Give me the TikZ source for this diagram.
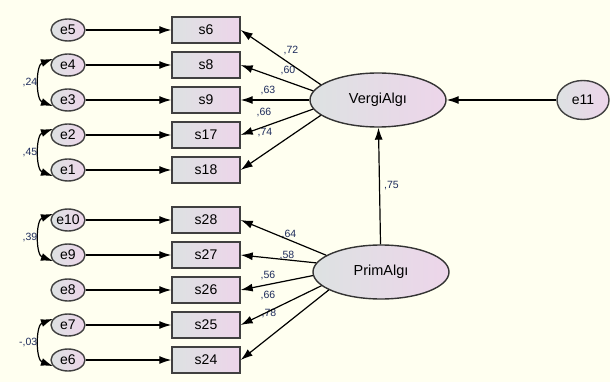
\documentclass[tikz,border=0pt]{standalone}
\usepackage{fontspec}
\setmainfont{Liberation Sans}
\usepackage{xcolor}
\usepackage{tikz}
\usetikzlibrary{arrows.meta,shapes.geometric}

\definecolor{amosbg}{HTML}{FFFFF0}
\definecolor{amosgray}{HTML}{DDE2E2}
\definecolor{amospink}{HTML}{EDD5EA}
\definecolor{amoscoef}{HTML}{1E2C5C}

\begin{document}
\begin{tikzpicture}[x=1pt,y=-1pt,line width=1.2pt,
  >={Latex[length=12pt,width=8pt]},
  obs node/.style={rectangle,draw=black!75,line width=1.4pt,left color=amosgray,right color=amospink,
    minimum width=68pt,minimum height=26pt,inner sep=0pt,font=\fontsize{14}{16}\selectfont},
  err node/.style={ellipse,draw=black!75,line width=1.4pt,left color=amosgray,right color=amospink,
    minimum width=34pt,minimum height=22pt,inner sep=0pt,font=\fontsize{14}{16}\selectfont}]

    \tikzstyle{latent} = [ellipse,draw=black!80,line width=1.4pt,left color=amosgray,right color=amospink,
      minimum width=136pt,minimum height=54pt,inner sep=0pt,font=\fontsize{14.5}{16}\selectfont]
    \tikzstyle{coef} = [text=amoscoef,inner sep=0pt,font=\fontsize{10.5}{12}\selectfont]

  \useasboundingbox[fill=amosbg] (0,0) rectangle (610,382);

  % error terms
  \node[err node] (e5) at (68,30) {e5};
  \node[err node] (e4) at (68,65) {e4};
  \node[err node] (e3) at (68,100) {e3};
  \node[err node] (e2) at (68,135) {e2};
  \node[err node] (e1) at (68,170) {e1};
  \node[err node] (e10) at (68,220) {e10};
  \node[err node] (e9) at (68,255) {e9};
  \node[err node] (e8) at (68,290) {e8};
  \node[err node] (e7) at (68,325) {e7};
  \node[err node] (e6) at (68,360) {e6};

  % items
  \node[obs node] (s6) at (206,30) {s6};
  \node[obs node] (s8) at (206,65) {s8};
  \node[obs node] (s9) at (206,100) {s9};
  \node[obs node] (s17) at (206,135) {s17};
  \node[obs node] (s18) at (206,170) {s18};
  \node[obs node] (s28) at (206,220) {s28};
  \node[obs node] (s27) at (206,255) {s27};
  \node[obs node] (s26) at (206,290) {s26};
  \node[obs node] (s25) at (206,325) {s25};
  \node[obs node] (s24) at (206,360) {s24};

  % factors
  \node[latent] (verg) at (378,100) {VergiAlgı};
  \node[latent] (prim) at (381,272) {PrimAlgı};
  \node[err node,minimum width=52pt,minimum height=39pt] (e11) at (583,100) {e11};

  % loadings
  \node[coef] (c72) at (291,51) {,72};
  \node[coef] (c60) at (288,71) {,60};
  \node[coef] (c63) at (268,91) {,63};
  \node[coef] (c66a) at (264,113) {,66};
  \node[coef] (c74) at (265,133) {,74};
  \node[coef] (c64) at (289,235) {,64};
  \node[coef] (c58) at (287,256) {,58};
  \node[coef] (c56) at (268,276) {,56};
  \node[coef] (c66b) at (268,296) {,66};
  \node[coef] (c78) at (269,314) {,78};

  \path[->]
    (e5) edge (s6)
    (e4) edge (s8)
    (e3) edge (s9)
    (e2) edge (s17)
    (e1) edge (s18)
    (e10) edge (s28)
    (e9) edge (s27)
    (e8) edge (s26)
    (e7) edge (s25)
    (e6) edge (s24)

    (verg.165) edge (s6.east)
    (verg.172) edge (s8.east)
    (verg.180) edge (s9.east)
    (verg.188) edge (s17.east)
    (verg.195) edge (s18.east)

    (prim.163) edge (s28.east)
    (prim.172) edge (s27.east)
    (prim.183) edge (s26.east)
    (prim.193) edge (s25.east)
    (prim.199) edge (s24.east)

    (e11) edge (verg)
    (prim) edge node[coef,right=4pt] {,75} (verg)
    ;

  % correlated errors
  \path[<->,every node/.style={coef,left=2pt}]
    (e4.158) edge[bend right=70] node {,24} (e3.202)
    (e2.158) edge[bend right=70] node {,45} (e1.202)
    (e10.158) edge[bend right=70] node {,39} (e9.202)
    (e7.158) edge[bend right=70] node {-,03} (e6.202)
    ;

\end{tikzpicture}
\end{document}
